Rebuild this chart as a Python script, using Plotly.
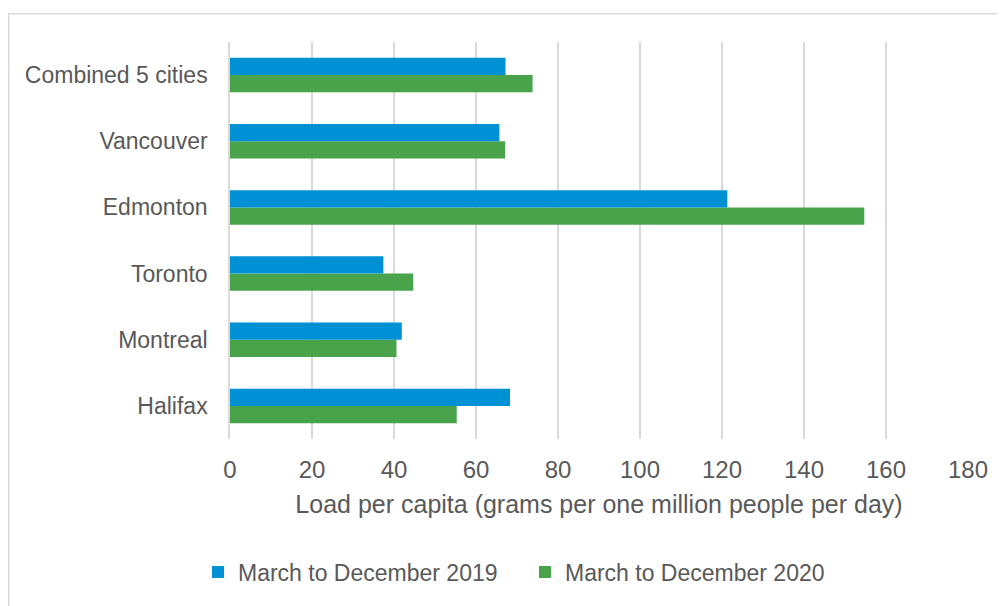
import plotly.graph_objects as go

# data (bottom to top)
cities = ["Halifax", "Montreal", "Toronto", "Edmonton", "Vancouver", "Combined 5 cities"]
load_2019 = [68.3, 41.9, 37.4, 121.3, 65.7, 67.2]
load_2020 = [55.3, 40.6, 44.7, 154.7, 67.1, 73.8]
x_ticks = [0, 20, 40, 60, 80, 100, 120, 140, 160, 180]

BLUE = "#0091D5"
GREEN = "#49A34A"
TEXT = "#595959"
GRID = "#D9D9D9"
FONT = "Liberation Sans"

# page has an 8px body margin, so the figure is drawn 8px smaller
W, H = 997, 598
L, R, T, B = 222, 37, 34, 158
PW, PH = W - L - R, H - T - B

fig = go.Figure()
# 2020 added first so that 2019 sits on top within each group
fig.add_trace(go.Bar(y=cities, x=load_2020, orientation="h", name="March to December 2020",
                     marker=dict(color=GREEN, line_width=0)))
fig.add_trace(go.Bar(y=cities, x=load_2019, orientation="h", name="March to December 2019",
                     marker=dict(color=BLUE, line_width=0)))

fig.update_layout(
    width=W, height=H,
    margin=dict(l=L, r=R, t=T, b=B),
    paper_bgcolor="white", plot_bgcolor="white",
    barmode="group", bargap=0.478, bargroupgap=0,
    font=dict(family=FONT, color=TEXT, size=24),
    showlegend=True,
    legend=dict(orientation="h", traceorder="reversed", x=(517 - L) / PW, xanchor="center",
                y=(T + PH - 576) / PH, yanchor="middle", font=dict(size=23, color=TEXT),
                itemwidth=30, tracegroupgap=0, entrywidth=282),
)
fig.update_xaxes(range=[0, 180], tickvals=x_ticks, showgrid=True, gridcolor=GRID, gridwidth=1.5,
                 zeroline=False, showline=False, ticks="", ticklabelstandoff=14,
                 tickfont=dict(size=24, color=TEXT),
                 title=dict(text="Load per capita (grams per one million people per day)",
                            font=dict(size=25, color=TEXT), standoff=13))
fig.update_yaxes(showgrid=False, zeroline=False, showline=True, linecolor=GRID, linewidth=1.5,
                 ticks="", ticklabelstandoff=16, tickfont=dict(size=23, color=TEXT))

# outer chart border (light grey frame, runs off the right and bottom)
fig.add_shape(type="rect", xref="paper", yref="paper",
              x0=(0.8 - L) / PW, x1=(W + 40 - L) / PW,
              y0=(T + PH - (H + 40)) / PH, y1=(T + PH - 5) / PH,
              line=dict(color=GRID, width=1.5), fillcolor="rgba(0,0,0,0)", layer="below")

fig.write_html("out.html")
